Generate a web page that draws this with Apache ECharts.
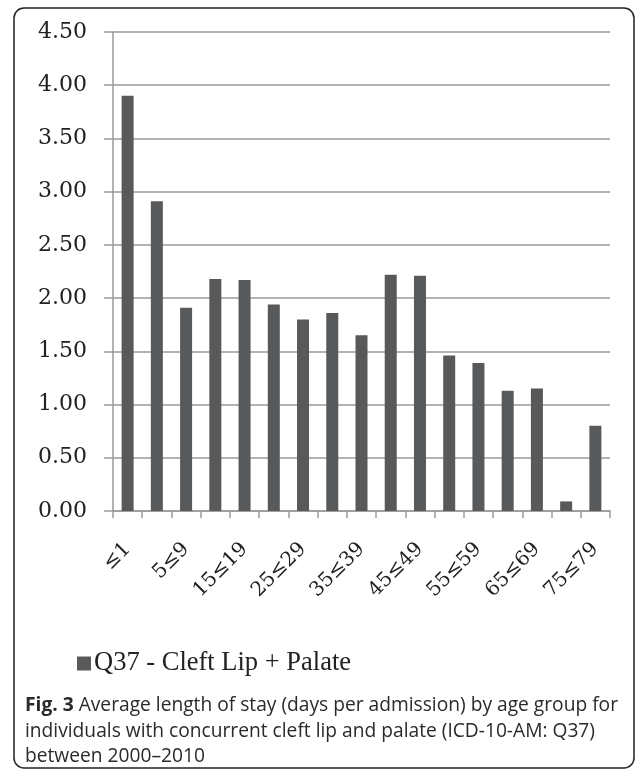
<!DOCTYPE html>
<html>
<head>
<meta charset="utf-8">
<script src="https://cdn.jsdelivr.net/npm/echarts@6/dist/echarts.min.js"></script>
<style>
html,body{margin:0;padding:0;background:#fff;}
#chart{width:636px;height:771px;}
</style>
</head>
<body>
<div id="chart"></div>
<script>
var categories = ['≤1','1≤4','5≤9','10≤14','15≤19','20≤24','25≤29','30≤34','35≤39','40≤44','45≤49','50≤54','55≤59','60≤64','65≤69','70≤74','75≤79'];
var values = [3.90, 2.91, 1.91, 2.18, 2.17, 1.94, 1.80, 1.86, 1.65, 2.22, 2.21, 1.46, 1.39, 1.13, 1.15, 0.09, 0.80];
var seriesName = 'Q37 - Cleft Lip + Palate';
var captionBold = 'Fig. 3';
var captionLines = [
  'Average length of stay (days per admission) by age group for',
  'individuals with concurrent cleft lip and palate (ICD-10-AM: Q37)',
  'between 2000–2010'
];

var chart = echarts.init(document.getElementById('chart'), null, {renderer: 'canvas'});
var axisColor = '#9a9a9a';
chart.setOption({
  animation: false,
  backgroundColor: '#fff',
  title: {
    left: 20, top: 688,
    text: '{b|' + captionBold + '} ' + captionLines[0] + '\n' + captionLines[1] + '\n' + captionLines[2],
    textStyle: {
      fontFamily: 'Open Sans', fontSize: 19.2, fontWeight: 'normal', color: '#2a2a2a', lineHeight: 25.5,
      rich: { b: { fontFamily: 'Open Sans', fontSize: 19.2, fontWeight: 'bold', color: '#2a2a2a', lineHeight: 25.5 } }
    }
  },
  legend: {
    left: 72, top: 645,
    icon: 'rect', itemWidth: 14, itemHeight: 14,
    textStyle: { fontFamily: 'Liberation Serif', fontSize: 26.5, color: '#222', padding: [0,0,0,-2] },
    data: [seriesName]
  },
  grid: { left: 113, right: 26, top: 32, bottom: 260 },
  xAxis: {
    type: 'category',
    data: categories,
    axisLine: { show: true, lineStyle: { color: axisColor, width: 1.5 } },
    axisTick: { show: true, interval: 0, length: 7, lineStyle: { color: axisColor, width: 1.5 } },
    axisLabel: {
      interval: 1, rotate: 45, margin: 35,
      fontFamily: 'DejaVu Serif', fontSize: 20, color: '#222'
    }
  },
  yAxis: {
    type: 'value', min: 0, max: 4.5, interval: 0.5,
    axisLine: { show: true, lineStyle: { color: axisColor, width: 1.5 } },
    axisTick: { show: true, length: 9, lineStyle: { color: axisColor, width: 1.5 } },
    splitLine: { show: true, lineStyle: { color: axisColor, width: 1.5 } },
    axisLabel: {
      margin: 26, fontFamily: 'DejaVu Serif', fontSize: 22, color: '#222',
      formatter: function (v) { return v.toFixed(2); }
    }
  },
  series: [{
    name: seriesName,
    type: 'bar',
    data: values,
    barWidth: 12,
    itemStyle: { color: '#58595b' }
  }],
  graphic: [{
    type: 'rect', silent: true,
    shape: { x: 14, y: 8, width: 620, height: 760, r: 10 },
    style: { fill: 'none', stroke: '#222', lineWidth: 1.5 }
  }]
});
</script>
</body>
</html>
